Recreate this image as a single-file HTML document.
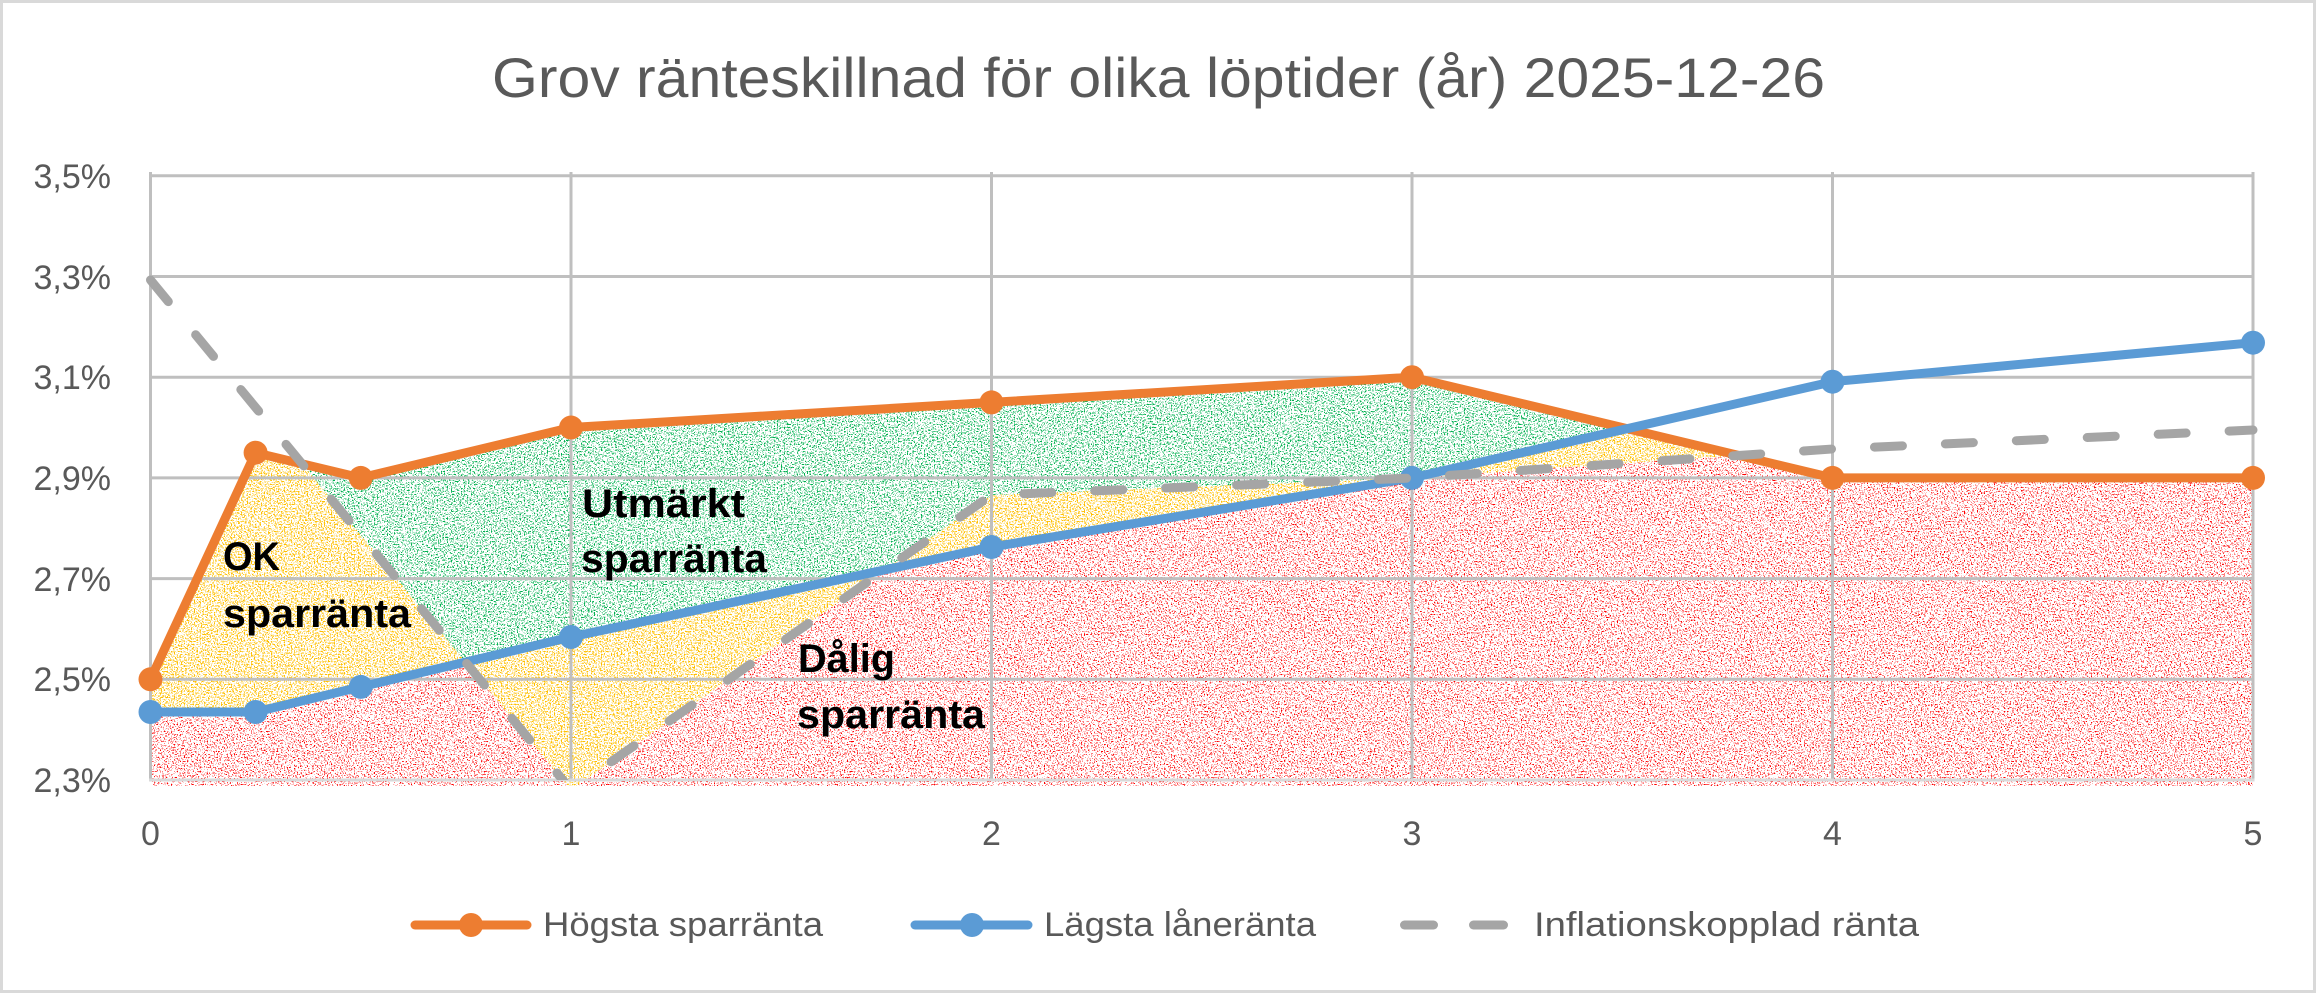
<!DOCTYPE html>
<html><head><meta charset="utf-8"><style>html,body{margin:0;padding:0;background:#fff}svg{display:block}</style></head>
<body>
<svg width="2316" height="993" viewBox="0 0 2316 993" xmlns="http://www.w3.org/2000/svg" font-family="'Liberation Sans', Arial, sans-serif">
<defs>
  <filter id="nG" filterUnits="userSpaceOnUse" x="140" y="160" width="2130" height="640" color-interpolation-filters="sRGB">
    <feTurbulence type="fractalNoise" baseFrequency="0.7" numOctaves="3" seed="11"/>
    <feColorMatrix type="matrix" values="0 0 0 0 0  0 0 0 0 0.69  0 0 0 0 0.31  1 0 0 0 0"/>
    <feComponentTransfer><feFuncA type="linear" slope="40" intercept="-23.2"/></feComponentTransfer>
  </filter>
  <filter id="nY" filterUnits="userSpaceOnUse" x="140" y="160" width="2130" height="640" color-interpolation-filters="sRGB">
    <feTurbulence type="fractalNoise" baseFrequency="0.7" numOctaves="3" seed="23"/>
    <feColorMatrix type="matrix" values="0 0 0 0 1  0 0 0 0 0.75  0 0 0 0 0  1 0 0 0 0"/>
    <feComponentTransfer><feFuncA type="linear" slope="40" intercept="-22.2"/></feComponentTransfer>
  </filter>
  <filter id="nR" filterUnits="userSpaceOnUse" x="140" y="160" width="2130" height="640" color-interpolation-filters="sRGB">
    <feTurbulence type="fractalNoise" baseFrequency="0.7" numOctaves="3" seed="37"/>
    <feColorMatrix type="matrix" values="0 0 0 0 1  0 0 0 0 0  0 0 0 0 0  1 0 0 0 0"/>
    <feComponentTransfer><feFuncA type="linear" slope="40" intercept="-24.4"/></feComponentTransfer>
  </filter>
  <clipPath id="cPlot"><rect x="150" y="170" width="2105" height="616"/></clipPath>
  <clipPath id="cLine"><rect x="100" y="170" width="2200" height="610"/></clipPath>
  <clipPath id="cO"><polygon points="150.5,679.3 255.6,452.7 360.75,477.9 571,427.55 991.5,402.4 1412,377.2 1832.5,477.9 2253,477.9 2253,800 150.5,800"/></clipPath>
  <clipPath id="cB"><polygon points="150.5,712 255.6,712 360.75,686.9 571,637 991.5,547 1412,477.9 1832.5,381.7 2253,342.7 2253,800 150.5,800"/></clipPath>
  <clipPath id="cG"><polygon points="150.5,280 571,790 991.5,495 1412,478 1832.5,449 2253,430 2253,800 150.5,800"/></clipPath>
  <mask id="mG" maskUnits="userSpaceOnUse" x="0" y="0" width="2316" height="993">
    <rect x="0" y="0" width="2316" height="993" fill="#fff"/>
    <polygon points="150.5,712 255.6,712 360.75,686.9 571,637 991.5,547 1412,477.9 1832.5,381.7 2253,342.7 2253,800 150.5,800" fill="#000"/>
    <polygon points="150.5,280 571,790 991.5,495 1412,478 1832.5,449 2253,430 2253,800 150.5,800" fill="#000"/>
  </mask>
  <mask id="mY" maskUnits="userSpaceOnUse" x="0" y="0" width="2316" height="993">
    <polygon points="150.5,712 255.6,712 360.75,686.9 571,637 991.5,547 1412,477.9 1832.5,381.7 2253,342.7 2253,800 150.5,800" fill="#fff"/>
    <polygon points="150.5,280 571,790 991.5,495 1412,478 1832.5,449 2253,430 2253,800 150.5,800" fill="#fff"/>
    <g clip-path="url(#cG)">
      <polygon points="150.5,712 255.6,712 360.75,686.9 571,637 991.5,547 1412,477.9 1832.5,381.7 2253,342.7 2253,800 150.5,800" fill="#000"/>
    </g>
  </mask>
</defs>

<rect x="0" y="0" width="2316" height="993" fill="#fff"/>
<rect x="1.5" y="1.5" width="2313" height="990" fill="none" stroke="#d9d9d9" stroke-width="3"/>

<!-- title -->
<text x="492" y="97" font-size="56" fill="#595959" textLength="1333" lengthAdjust="spacingAndGlyphs">Grov ränteskillnad för olika löptider (år) 2025-12-26</text>

<!-- dotted regions -->
<g clip-path="url(#cPlot)">
  <g clip-path="url(#cO)">
    <g mask="url(#mG)">
      <rect x="150" y="170" width="2105" height="620" fill="#00b050" filter="url(#nG)"/>
    </g>
    <g mask="url(#mY)">
      <rect x="150" y="170" width="2105" height="620" fill="#ffc000" filter="url(#nY)"/>
    </g>
    <g clip-path="url(#cB)"><g clip-path="url(#cG)">
      <rect x="150" y="170" width="2105" height="620" fill="#ff0000" filter="url(#nR)"/>
    </g></g>
  </g>
</g>

<!-- gridlines -->
<g stroke="#bfbfbf" stroke-width="3" fill="none">
  <line x1="150.5" y1="175.8" x2="2253" y2="175.8"/>
  <line x1="150.5" y1="276.5" x2="2253" y2="276.5"/>
  <line x1="150.5" y1="377.2" x2="2253" y2="377.2"/>
  <line x1="150.5" y1="477.9" x2="2253" y2="477.9"/>
  <line x1="150.5" y1="578.6" x2="2253" y2="578.6"/>
  <line x1="150.5" y1="679.3" x2="2253" y2="679.3"/>
  <line x1="150.5" y1="172" x2="150.5" y2="780"/>
  <line x1="571" y1="172" x2="571" y2="780"/>
  <line x1="991.5" y1="172" x2="991.5" y2="780"/>
  <line x1="1412" y1="172" x2="1412" y2="780"/>
  <line x1="1832.5" y1="172" x2="1832.5" y2="780"/>
  <line x1="2253" y1="172" x2="2253" y2="780"/>
</g>
<line x1="149" y1="780" x2="2254.5" y2="780" stroke="#d9d9d9" stroke-width="3"/>

<!-- y labels -->
<g font-size="34" fill="#595959" text-anchor="end">
  <text x="111" y="188">3,5%</text>
  <text x="111" y="289">3,3%</text>
  <text x="111" y="389">3,1%</text>
  <text x="111" y="490">2,9%</text>
  <text x="111" y="591">2,7%</text>
  <text x="111" y="691">2,5%</text>
  <text x="111" y="792">2,3%</text>
</g>
<!-- x labels -->
<g font-size="34" fill="#595959" text-anchor="middle">
  <text x="150.5" y="845">0</text>
  <text x="571" y="845">1</text>
  <text x="991.5" y="845">2</text>
  <text x="1412" y="845">3</text>
  <text x="1832.5" y="845">4</text>
  <text x="2253" y="845">5</text>
</g>

<!-- region labels -->
<g font-size="40" font-weight="bold" fill="#000">
  <text x="223" y="570" textLength="57" lengthAdjust="spacingAndGlyphs">OK</text>
  <text x="223" y="627" textLength="188" lengthAdjust="spacingAndGlyphs">sparränta</text>
  <text x="582" y="517" textLength="163" lengthAdjust="spacingAndGlyphs">Utmärkt</text>
  <text x="581" y="572" textLength="186" lengthAdjust="spacingAndGlyphs">sparränta</text>
  <text x="798" y="672" textLength="97" lengthAdjust="spacingAndGlyphs">Dålig</text>
  <text x="797" y="728" textLength="188" lengthAdjust="spacingAndGlyphs">sparränta</text>
</g>

<!-- series: orange -->
<polyline points="150.5,679.3 255.6,452.7 360.75,477.9 571,427.55 991.5,402.4 1412,377.2 1832.5,477.9 2253,477.9" fill="none" stroke="#ed7d31" stroke-width="9" stroke-linejoin="round" stroke-linecap="round"/>
<g fill="#ed7d31">
  <circle cx="150.5" cy="679.3" r="12"/><circle cx="255.6" cy="452.7" r="12"/><circle cx="360.75" cy="477.9" r="12"/>
  <circle cx="571" cy="427.55" r="12"/><circle cx="991.5" cy="402.4" r="12"/><circle cx="1412" cy="377.2" r="12"/>
  <circle cx="1832.5" cy="477.9" r="12"/><circle cx="2253" cy="477.9" r="12"/>
</g>
<!-- series: blue -->
<polyline points="150.5,712 255.6,712 360.75,686.9 571,637 991.5,547 1412,477.9 1832.5,381.7 2253,342.7" fill="none" stroke="#5b9bd5" stroke-width="9" stroke-linejoin="round" stroke-linecap="round"/>
<g fill="#5b9bd5">
  <circle cx="150.5" cy="712" r="12"/><circle cx="255.6" cy="712" r="12"/><circle cx="360.75" cy="686.9" r="12"/>
  <circle cx="571" cy="637" r="12"/><circle cx="991.5" cy="547" r="12"/><circle cx="1412" cy="477.9" r="12"/>
  <circle cx="1832.5" cy="381.7" r="12"/><circle cx="2253" cy="342.7" r="12"/>
</g>
<!-- series: gray dashed -->
<g clip-path="url(#cLine)">
<polyline points="150.5,280 571,790 991.5,495 1412,478 1832.5,449 2253,430" fill="none" stroke="#a5a5a5" stroke-width="9" stroke-dasharray="28 43" stroke-linecap="round" stroke-linejoin="round"/>
</g>

<!-- legend -->
<line x1="415" y1="925" x2="527" y2="925" stroke="#ed7d31" stroke-width="9" stroke-linecap="round"/>
<circle cx="471" cy="925" r="12" fill="#ed7d31"/>
<text x="543" y="936" font-size="34" fill="#595959" textLength="280" lengthAdjust="spacingAndGlyphs">Högsta sparränta</text>

<line x1="915" y1="925" x2="1028" y2="925" stroke="#5b9bd5" stroke-width="9" stroke-linecap="round"/>
<circle cx="972" cy="925" r="12" fill="#5b9bd5"/>
<text x="1044" y="936" font-size="34" fill="#595959" textLength="272" lengthAdjust="spacingAndGlyphs">Lägsta låneränta</text>

<line x1="1404.5" y1="925" x2="1433.5" y2="925" stroke="#a5a5a5" stroke-width="9" stroke-linecap="round"/>
<line x1="1473.5" y1="925" x2="1503.5" y2="925" stroke="#a5a5a5" stroke-width="9" stroke-linecap="round"/>
<text x="1534" y="936" font-size="34" fill="#595959" textLength="385" lengthAdjust="spacingAndGlyphs">Inflationskopplad ränta</text>
</svg>
</body></html>
